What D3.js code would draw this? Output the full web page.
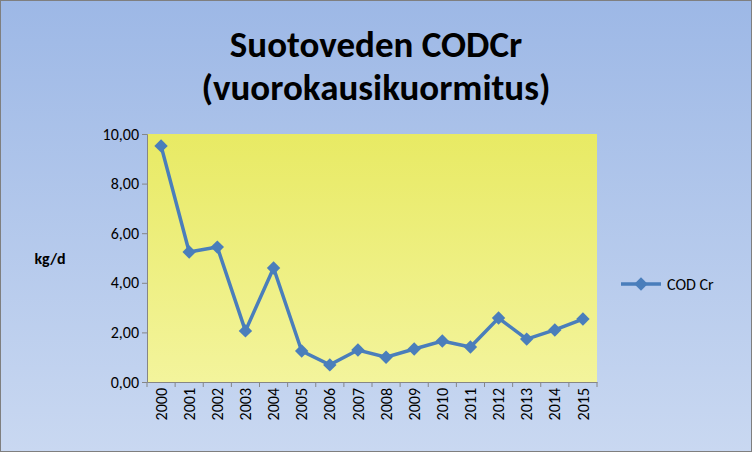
<!DOCTYPE html>
<html><head><meta charset="utf-8">
<script src="https://cdn.jsdelivr.net/npm/d3@7"></script>
<style>body{margin:0}svg{display:block}</style>
</head><body>
<svg id="c" width="752" height="452"></svg>
<script>
const years = ["2000","2001","2002","2003","2004","2005","2006","2007","2008","2009","2010","2011","2012","2013","2014","2015"];
const codCr = [9.52,5.24,5.44,2.06,4.6,1.25,0.69,1.29,1.0,1.33,1.65,1.41,2.58,1.73,2.1,2.54];
const yTicks = [0,2,4,6,8,10];

const svg = d3.select("#c");
const defs = svg.append("defs");
const bg = defs.append("linearGradient").attr("id","bg").attr("x1",0).attr("y1",0).attr("x2",0).attr("y2",1);
bg.append("stop").attr("offset","0").attr("stop-color","#9db8e6");
bg.append("stop").attr("offset","1").attr("stop-color","#c9d8f1");
const pa = defs.append("linearGradient").attr("id","pa").attr("x1",0).attr("y1",0).attr("x2",0).attr("y2",1);
pa.append("stop").attr("offset","0").attr("stop-color","#e8ea64");
pa.append("stop").attr("offset","1").attr("stop-color","#f3f49c");

svg.append("rect").attr("x",0.5).attr("y",0.5).attr("width",751).attr("height",451)
  .attr("fill","url(#bg)").attr("stroke","#7f7f7f");

const m = {l:147, r:597, t:134, b:382};
const x = d3.scaleBand().domain(years).range([m.l,m.r]);
const y = d3.scaleLinear().domain([0,10]).range([m.b,m.t]);

svg.append("rect").attr("x",m.l).attr("y",m.t).attr("width",m.r-m.l).attr("height",m.b-m.t)
  .attr("fill","url(#pa)");

const font = "Calibri, Carlito, 'Open Sans', sans-serif";
svg.append("text").attr("x",376).attr("y",57).attr("text-anchor","middle")
  .attr("font-family",font).attr("font-weight","bold").attr("font-size",37).text("Suotoveden CODCr");
svg.append("text").attr("x",376).attr("y",100).attr("text-anchor","middle")
  .attr("font-family",font).attr("font-weight","bold").attr("font-size",37).text("(vuorokausikuormitus)");

const ya = svg.append("g").attr("transform",`translate(${m.l},0)`)
  .call(d3.axisLeft(y).tickValues(yTicks).tickSize(5).tickFormat(d => d3.format(".2f")(d).replace(".",",")));
ya.selectAll("text").attr("font-family",font).attr("font-size",16).attr("fill","#000");
ya.selectAll("line,path").attr("stroke","#868686");

const xa = svg.append("g").attr("transform",`translate(0,${m.b})`)
  .call(d3.axisBottom(x).tickSize(0).tickSizeOuter(0));
xa.selectAll("path").attr("stroke","#868686");
xa.selectAll(".tick").append("line").attr("x1",-x.bandwidth()/2).attr("x2",-x.bandwidth()/2).attr("y2",5).attr("stroke","#868686");
xa.append("line").attr("x1",m.r).attr("x2",m.r).attr("y2",5).attr("stroke","#868686");
xa.selectAll("text").attr("font-family",font).attr("font-size",16).attr("fill","#000")
  .attr("transform","rotate(-90)").attr("text-anchor","end").attr("dx","-6").attr("dy","0.35em").attr("x",0).attr("y",0);

svg.append("text").attr("x",50).attr("y",264).attr("text-anchor","middle")
  .attr("font-family",font).attr("font-weight","bold").attr("font-size",16).text("kg/d");

const col = "#4a7ebb";
const line = d3.line().x((d,i)=>x(years[i])+x.bandwidth()/2).y(d=>y(d));
svg.append("path").datum(codCr).attr("d",line).attr("fill","none").attr("stroke",col).attr("stroke-width",3.5);
const sym = d3.symbol().type(d3.symbolSquare).size(90);
svg.selectAll(".pt").data(codCr).join("path")
  .attr("transform",(d,i)=>`translate(${x(years[i])+x.bandwidth()/2},${y(d)}) rotate(45)`)
  .attr("d",sym).attr("fill",col);

svg.append("line").attr("x1",621).attr("x2",661).attr("y1",284).attr("y2",284).attr("stroke",col).attr("stroke-width",3.5);
svg.append("path").attr("transform","translate(641,284) rotate(45)").attr("d",sym).attr("fill",col);
svg.append("text").attr("x",667).attr("y",290).attr("font-family",font).attr("font-size",16).text("COD Cr");
</script>
</body></html>
